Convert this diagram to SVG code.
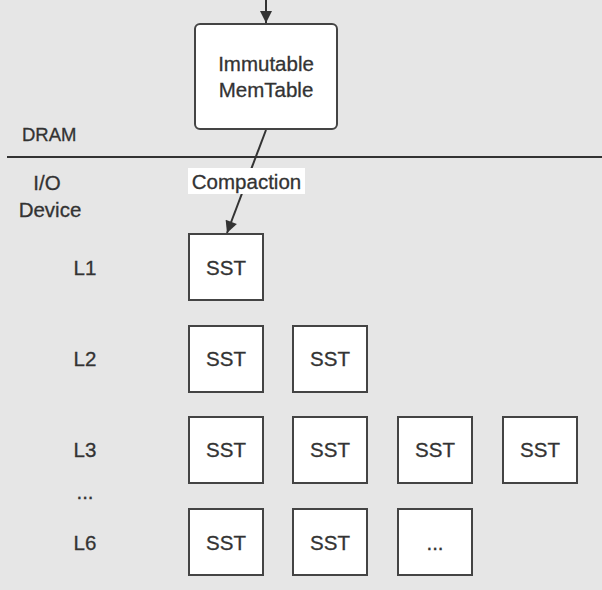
<svg xmlns="http://www.w3.org/2000/svg" width="602" height="590" viewBox="0 0 602 590">
<defs>
<style>
.t{font-family:"Liberation Sans",Arial,sans-serif;font-size:20.5px;fill:#333;stroke:#333;stroke-width:0.3;}
.c{text-anchor:middle;}
.box{fill:#fff;stroke:#444;stroke-width:2;}
.ln{stroke:#333;stroke-width:2;fill:none;}
</style>
<marker id="ah2" viewBox="0 0 10 10" refX="10" refY="5" markerWidth="14" markerHeight="12" markerUnits="userSpaceOnUse" orient="auto">
<path d="M0,0 L10,5 L0,10 z" fill="#333"/>
</marker>
</defs>
<rect width="602" height="590" fill="#e6e6e6"/>
<line x1="7" y1="157" x2="602" y2="157" stroke="#333" stroke-width="2"/>
<g id="labels">
<text class="t" x="22" y="141" style="font-size:18.5px">DRAM</text>
<text class="t c" x="47" y="190">I/O</text>
<text class="t c" x="50" y="217">Device</text>
<text class="t c" x="85" y="275">L1</text>
<text class="t c" x="85" y="366">L2</text>
<text class="t c" x="85" y="457">L3</text>
<text class="t c" x="85" y="499">...</text>
<text class="t c" x="85" y="550">L6</text>
</g>
<g id="connectors">
<line class="ln" x1="266" y1="0" x2="266" y2="23" marker-end="url(#ah2)"/>
<line class="ln" x1="266" y1="130" x2="227" y2="233" marker-end="url(#ah2)"/>
<rect x="188" y="168" width="117" height="26" fill="#fff"/>
<text class="t c" x="246.5" y="189">Compaction</text>
</g>
<g id="memtable">
<rect class="box" x="195" y="24" width="142" height="105" rx="5"/>
<text class="t c" x="266" y="71">Immutable</text>
<text class="t c" x="266" y="97">MemTable</text>
</g>
<g id="l1-sst1"><rect class="box" x="189" y="234" width="74" height="66"/><text class="t c" x="226" y="275">SST</text></g>
<g id="l2-sst1"><rect class="box" x="189" y="326" width="74" height="66"/><text class="t c" x="226" y="366">SST</text></g>
<g id="l2-sst2"><rect class="box" x="293" y="326" width="74" height="66"/><text class="t c" x="330" y="366">SST</text></g>
<g id="l3-sst1"><rect class="box" x="189" y="417" width="74" height="66"/><text class="t c" x="226" y="457">SST</text></g>
<g id="l3-sst2"><rect class="box" x="293" y="417" width="74" height="66"/><text class="t c" x="330" y="457">SST</text></g>
<g id="l3-sst3"><rect class="box" x="398" y="417" width="74" height="66"/><text class="t c" x="435" y="457">SST</text></g>
<g id="l3-sst4"><rect class="box" x="503" y="417" width="74" height="66"/><text class="t c" x="540" y="457">SST</text></g>
<g id="l6-sst1"><rect class="box" x="189" y="509" width="74" height="66"/><text class="t c" x="226" y="550">SST</text></g>
<g id="l6-sst2"><rect class="box" x="293" y="509" width="74" height="66"/><text class="t c" x="330" y="550">SST</text></g>
<g id="l6-more"><rect class="box" x="398" y="509" width="74" height="66"/><text class="t c" x="435" y="550">...</text></g>
</svg>
